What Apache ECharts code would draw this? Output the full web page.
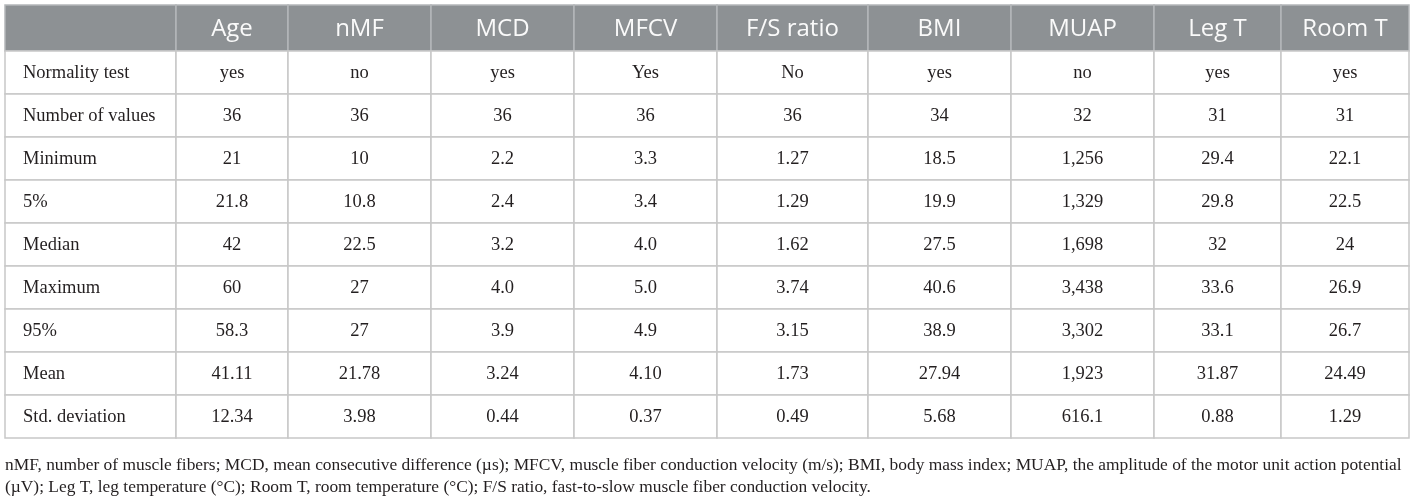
<!DOCTYPE html>
<html>
<head>
<meta charset="utf-8">
<script src="https://cdn.jsdelivr.net/npm/echarts@6/dist/echarts.min.js"></script>
<style>
  html, body { margin: 0; padding: 0; background: #fff; }
  #table { width: 1414px; height: 496px; }
</style>
</head>
<body>
<div id="table"></div>
<script>
// 表头和数据
const columns = ['Age', 'nMF', 'MCD', 'MFCV', 'F/S ratio', 'BMI', 'MUAP', 'Leg T', 'Room T'];
const rowLabels = ['Normality test', 'Number of values', 'Minimum', '5%', 'Median', 'Maximum', '95%', 'Mean', 'Std. deviation'];
const normality = ['yes', 'no', 'yes', 'Yes', 'No', 'yes', 'no', 'yes', 'yes'];
const numberOfValues = ['36', '36', '36', '36', '36', '34', '32', '31', '31'];
const minimum = ['21', '10', '2.2', '3.3', '1.27', '18.5', '1,256', '29.4', '22.1'];
const pct5 = ['21.8', '10.8', '2.4', '3.4', '1.29', '19.9', '1,329', '29.8', '22.5'];
const median = ['42', '22.5', '3.2', '4.0', '1.62', '27.5', '1,698', '32', '24'];
const maximum = ['60', '27', '4.0', '5.0', '3.74', '40.6', '3,438', '33.6', '26.9'];
const pct95 = ['58.3', '27', '3.9', '4.9', '3.15', '38.9', '3,302', '33.1', '26.7'];
const mean = ['41.11', '21.78', '3.24', '4.10', '1.73', '27.94', '1,923', '31.87', '24.49'];
const stdDev = ['12.34', '3.98', '0.44', '0.37', '0.49', '5.68', '616.1', '0.88', '1.29'];
const footnoteLines = [
    'nMF, number of muscle fibers; MCD, mean consecutive difference (\u00b5s); MFCV, muscle fiber conduction velocity (m/s); BMI, body mass index; MUAP, the amplitude of the motor unit action potential',
    '(\u00b5V); Leg T, leg temperature (\u00b0C); Room T, room temperature (\u00b0C); F/S ratio, fast-to-slow muscle fiber conduction velocity.'
];

// 布局 (列边界和行高)
const colEdges = [0, 171, 283, 426, 569, 712, 863, 1006, 1149, 1276, 1404];
const headerH = 46;
const rowH = 43;

document.addEventListener('DOMContentLoaded', function() {
    const chart = echarts.init(document.getElementById('table'));
    const rows = [normality, numberOfValues, minimum, pct5, median, maximum, pct95, mean, stdDev];

    // 单元格列表: [列, 行(-1 为表头)]
    const cells = [];
    cells.push({ col: 0, row: -1, text: '' });
    columns.forEach(function(c, i) { cells.push({ col: i + 1, row: -1, text: c }); });
    rowLabels.forEach(function(label, r) {
        cells.push({ col: 0, row: r, text: label });
        rows[r].forEach(function(v, i) { cells.push({ col: i + 1, row: r, text: v }); });
    });

    const tableH = headerH + rowLabels.length * rowH;

    function renderCell(params, api) {
        const cell = cells[params.dataIndex];
        const y0 = cell.row < 0 ? 0 : headerH + cell.row * rowH;
        const y1 = cell.row < 0 ? headerH : y0 + rowH;
        const p0 = api.coord([colEdges[cell.col], y0]);
        const p1 = api.coord([colEdges[cell.col + 1], y1]);
        const isHeader = cell.row < 0;
        const isLabel = cell.col === 0;
        return {
            type: 'group',
            children: [
                {
                    type: 'rect',
                    shape: { x: p0[0], y: p0[1], width: p1[0] - p0[0], height: p1[1] - p0[1] },
                    style: {
                        fill: isHeader ? '#8d9194' : '#ffffff',
                        stroke: isHeader ? '#b4b7b9' : '#c8c8c8',
                        lineWidth: 1.5
                    }
                },
                {
                    type: 'text',
                    style: {
                        x: isLabel ? p0[0] + 18 : (p0[0] + p1[0]) / 2,
                        y: (p0[1] + p1[1]) / 2 + 1,
                        text: cell.text,
                        align: isLabel ? 'left' : 'center',
                        verticalAlign: 'middle',
                        fill: isHeader ? '#fafafa' : '#231f20',
                        fontFamily: isHeader ? 'Open Sans' : 'Liberation Serif',
                        fontSize: isHeader ? 24 : 18.5,
                        fontWeight: 'normal'
                    }
                }
            ]
        };
    }

    const option = {
        animation: false,
        title: footnoteLines.map(function(line, i) {
            return {
                text: line,
                left: 5,
                top: 457 + i * 22,
                padding: 0,
                textStyle: { fontFamily: 'Liberation Serif', fontSize: 17.4, fontWeight: 'normal', color: '#231f20' }
            };
        }),
        grid: { left: 5, top: 5, width: 1404, height: tableH },
        xAxis: { type: 'value', min: 0, max: colEdges[colEdges.length - 1], show: false },
        yAxis: { type: 'value', min: 0, max: tableH, inverse: true, show: false },
        series: [
            {
                type: 'custom',
                renderItem: renderCell,
                data: cells.map(function(c) { return [c.col, c.row]; })
            }
        ]
    };
    chart.setOption(option);
});
</script>
</body>
</html>
